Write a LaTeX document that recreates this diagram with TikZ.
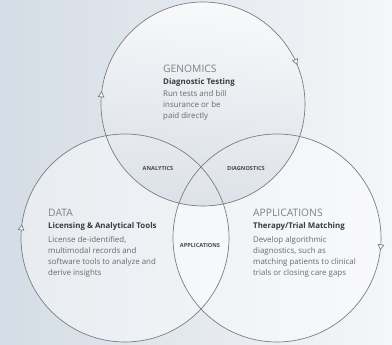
\documentclass[tikz,border=0pt]{standalone}
\usepackage{fontspec}
\setmainfont{Open Sans}
\usetikzlibrary{arrows.meta,decorations.markings}
\definecolor{bgleft}{HTML}{D4DCE5}
\definecolor{bgright}{HTML}{F5F6F8}
\definecolor{ringline}{HTML}{7A7D81}
\definecolor{headgray}{HTML}{7E8185}
\definecolor{subdark}{HTML}{3A3B3D}
\definecolor{bodygray}{HTML}{686A6E}
\definecolor{zonelabel}{HTML}{45474A}
\definecolor{topshade}{HTML}{D6DCE4}

\begin{document}
\begin{tikzpicture}[x=1pt,y=1pt,
  ring/.style={draw=ringline, line width=0.7pt},
  flowtip/.style={postaction={decorate}, decoration={markings,
      mark=at position #1 with {\arrowreversed{Triangle[open,length=6pt,width=6.5pt,fill=white]}}}},
  heading/.style={anchor=base west, inner sep=0pt, text=headgray, font=\fontsize{10.3}{12}\selectfont},
  subhead/.style={anchor=base west, inner sep=0pt, text=subdark, font=\bfseries\fontsize{7.9}{9}\selectfont},
  % multi-line blocks are placed by the baseline of their last line
  body/.style={anchor=base west, inner sep=0pt, text=bodygray, align=left, font=\fontsize{7.9}{10.8}\selectfont},
  zone/.style={inner sep=0pt, text=zonelabel, font=\bfseries\fontsize{5.6}{6}\selectfont},
]
% backdrop
\fill[left color=bgleft, right color=bgright] (0,0) rectangle (392,345);
\useasboundingbox (0,0) rectangle (392,345);

% circle centres
\coordinate (cTop)   at (203,241);
\coordinate (cLeft)  at (125,107);
\coordinate (cRight) at (277,107);

% soft fills
\fill[white, fill opacity=0.45] (cLeft) circle[radius=104pt];
\fill[white, fill opacity=0.45] (cRight) circle[radius=104pt];
\shade[top color=white, bottom color=topshade, fill opacity=0.75] (cTop) circle[radius=102pt];

% outlines with direction tips
\path[ring, postaction={decorate}, decoration={markings,
      mark=at position 0.0625 with {\arrowreversed{Triangle[open,length=6pt,width=6.5pt,fill=white]}},
      mark=at position 0.48 with {\arrowreversed{Triangle[open,length=6pt,width=6.5pt,fill=white]}}}]
  (cTop) circle[radius=102pt];
\path[ring, flowtip=0.479] (cLeft) circle[radius=104pt];
\path[ring, flowtip=0.981] (cRight) circle[radius=104pt];

% GENOMICS
\node[heading] (genT) at (163,272) {GENOMICS};
\node[subhead] (genS) at (163,260) {Diagnostic Testing};
\node[body] (genB) at (163,226.4) {Run tests and bill\\insurance or be\\paid directly};

% DATA
\node[heading] (datT) at (48,128) {DATA};
\node[subhead] (datS) at (48,116) {Licensing \& Analytical Tools};
\node[body] (datB) at (48,69.6) {License de-identified,\\multimodal records and\\software tools to analyze and\\derive insights};

% APPLICATIONS
\node[heading] (appT) at (253,128) {APPLICATIONS};
\node[subhead] (appS) at (253,116) {Therapy/Trial Matching};
\node[body] (appB) at (253,69.6) {Develop algorithmic\\diagnostics, such as\\matching patients to clinical\\trials or closing care gaps};

% overlap labels
\node[zone] (zA) at (158,176) {ANALYTICS};
\node[zone] (zD) at (246,176) {DIAGNOSTICS};
\node[zone] (zP) at (200,99) {APPLICATIONS};
\end{tikzpicture}
\end{document}
